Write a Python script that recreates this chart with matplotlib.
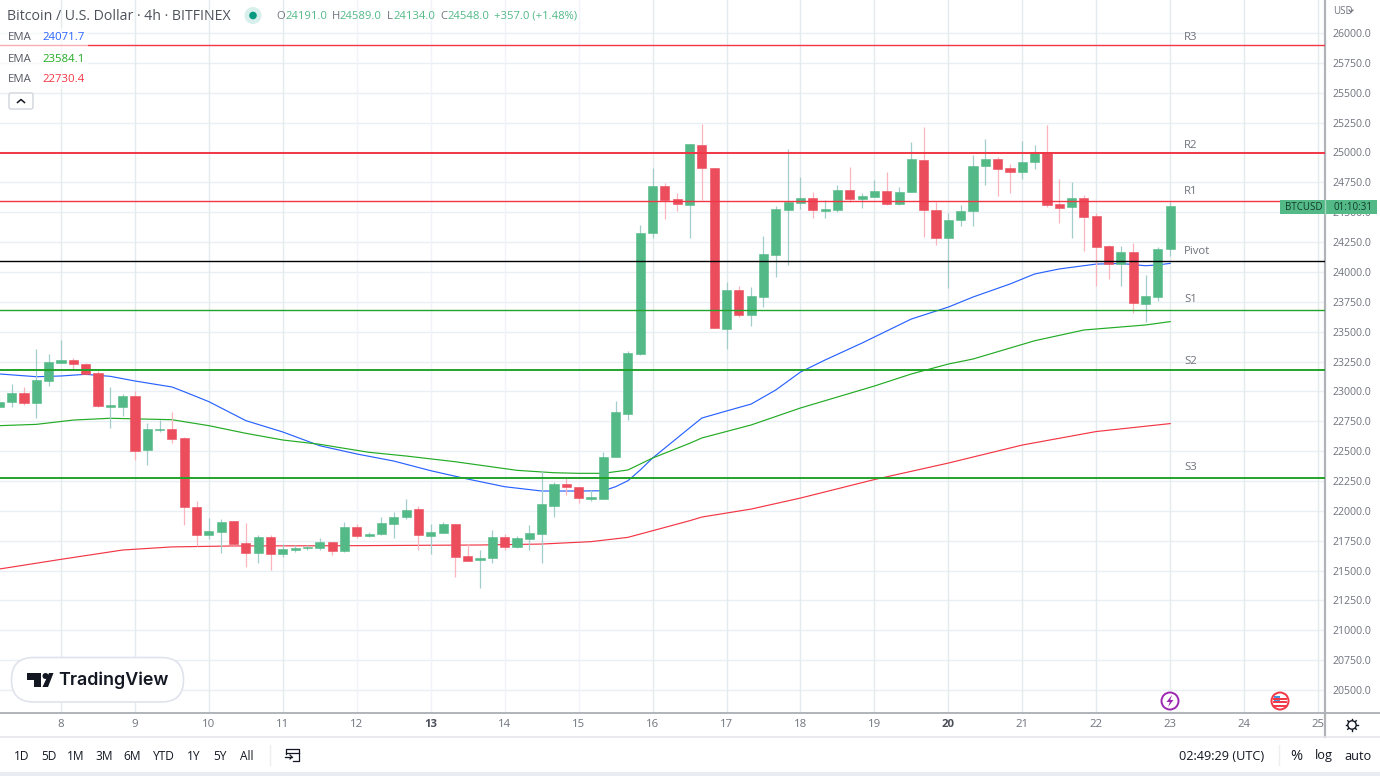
import numpy as np
import matplotlib
matplotlib.use('Agg')
import matplotlib.pyplot as plt
from matplotlib.patches import Circle, FancyBboxPatch, Polygon, Rectangle

plt.rcParams['font.family'] = ['Open Sans', 'DejaVu Sans']

# 4h candles, first one is bar -5, bar 0 is the 8th
FIRST_BAR = -5
opens = [22872, 22909, 22986, 22905, 23090, 23238, 23263, 23232, 23154, 22872, 22872, 22961, 22512, 22677, 22685,
         22607, 22035, 21798, 21825, 21915, 21733, 21647, 21781, 21639, 21675, 21689, 21691, 21739, 21664, 21867,
         21789, 21804, 21890, 21946, 22015, 21792, 21814, 21887, 21622, 21591, 21605, 21778, 21695, 21764, 21809,
         22043, 22225, 22200, 22099, 22102, 22453, 22813, 23313, 24324, 24720, 24611, 24563, 25063, 24870, 23525,
         23846, 23637, 23793, 24142, 24519, 24575, 24616, 24513, 24521, 24684, 24611, 24627, 24678, 24571, 24667,
         24937, 24519, 24282, 24435, 24510, 24887, 24946, 24870, 24834, 24923, 25007, 24569, 24541, 24616, 24466,
         24215, 24066, 24169, 23729, 23793, 24191]
highs = [22970, 23059, 23037, 23355, 23313, 23430, 23280, 23238, 23168, 23037, 22978, 23001, 22735, 22760, 22825,
         22616, 22082, 21940, 21929, 21915, 21898, 21800, 21795, 21720, 21714, 21714, 21773, 21739, 21909, 21887,
         21825, 21951, 21993, 22102, 22038, 21887, 21909, 21890, 21720, 21672, 21840, 21804, 21789, 21881, 22342,
         22244, 22272, 22200, 22174, 22493, 22920, 23341, 24393, 24868, 24747, 24661, 25071, 25239, 24870, 23913,
         23882, 23871, 24303, 24555, 25027, 24792, 24669, 24602, 24730, 24881, 24663, 24770, 24839, 24709, 25090,
         25211, 24583, 24491, 24560, 24979, 25113, 24965, 24904, 25096, 25063, 25230, 24776, 24753, 24642, 24491,
         24226, 24215, 24245, 23974, 24211, 24589]
lows = [22861, 22869, 22889, 22780, 23048, 23235, 23187, 23137, 22869, 22696, 22794, 22428, 22386, 22662, 22568,
        21884, 21706, 21764, 21650, 21714, 21532, 21563, 21507, 21613, 21655, 21672, 21675, 21630, 21655, 21775,
        21778, 21800, 21773, 21932, 21670, 21641, 21812, 21446, 21582, 21356, 21566, 21672, 21689, 21672, 21563,
        21948, 22133, 22068, 22085, 22102, 22453, 22760, 23305, 24282, 24443, 24513, 24287, 24602, 23528, 23355,
        23623, 23547, 23706, 23958, 24061, 24530, 24454, 24454, 24502, 24583, 24533, 24627, 24560, 24560, 24667,
        24295, 24228, 23868, 24387, 24387, 24728, 24636, 24658, 24778, 24862, 24546, 24412, 24287, 24178, 23885,
        23943, 23885, 23659, 23584, 23757, 24134]
closes = [22914, 22986, 22905, 23095, 23248, 23263, 23229, 23148, 22875, 22886, 22961, 22503, 22685, 22685, 22604,
          22032, 21798, 21831, 21909, 21722, 21647, 21781, 21639, 21680, 21691, 21700, 21739, 21664, 21865, 21792,
          21806, 21898, 21951, 22007, 21798, 21820, 21887, 21616, 21582, 21608, 21778, 21695, 21773, 21814, 22055,
          22225, 22200, 22105, 22116, 22451, 22825, 23319, 24324, 24720, 24605, 24569, 25071, 24873, 23528, 23846,
          23642, 23799, 24148, 24527, 24588, 24619, 24521, 24527, 24684, 24611, 24636, 24678, 24571, 24669, 24943,
          24521, 24282, 24435, 24508, 24887, 24946, 24864, 24834, 24923, 25007, 24558, 24538, 24616, 24462, 24211,
          24066, 24169, 23742, 23799, 24195, 24548]

# EMAs, read at these bars
ema_blue_x = [-5, -2, 0, 2, 4, 6, 9, 10, 12, 15, 18, 21, 24, 27, 30, 33, 36, 39, 42, 44, 45, 46, 47, 48, 51, 52, 54,
              56, 58, 60, 62, 65, 68, 69, 72, 74, 77, 79, 81, 84, 86, 88, 89, 90]
ema_blue = [23146, 23123, 23129, 23143, 23126, 23087, 23037, 22997, 22914, 22755, 22660, 22545, 22476, 22417, 22336,
            22266, 22202, 22166, 22166, 22168, 22202, 22252, 22342, 22442, 22694, 22777, 22836, 22894, 23012, 23162,
            23263, 23405, 23556, 23606, 23706, 23790, 23899, 23983, 24025, 24066, 24071, 24052, 24059, 24071.7]
ema_green_x = [-5, -2, 1, 4, 9, 12, 15, 18, 21, 23, 25, 28, 32, 37, 40, 42, 44, 46, 48, 51, 52, 56, 60, 66, 69, 72,
               74, 79, 83, 88, 90]
ema_green = [22713, 22724, 22760, 22775, 22763, 22713, 22649, 22593, 22557, 22523, 22490, 22459, 22411, 22339, 22319,
             22314, 22314, 22342, 22442, 22565, 22610, 22719, 22861, 23045, 23146, 23229, 23271, 23424, 23514, 23556,
             23584.1]
ema_red_x = [-5, 0, 5, 9, 14, 23, 34, 39, 43, 46, 51, 52, 56, 60, 66, 72, 78, 84, 90]
ema_red = [21513, 21594, 21672, 21698, 21706, 21708, 21714, 21722, 21742, 21778, 21917, 21948, 22015, 22107, 22262,
           22400, 22551, 22664, 22730.4]

level_names = ['R3', 'R2', 'R1', 'Pivot', 'S1', 'S2', 'S3']
level_values = [25900, 24998, 24596, 24089, 23684, 23179, 22274]
level_colors = ['#f23645', '#f23645', '#f23645', '#000000', '#22a32a', '#22a32a', '#22a32a']
level_widths = [1.0, 1.4, 1.0, 1.0, 1.0, 1.4, 1.4]
level_label_y = [36, 144, 191, 251, 299, 360, 467]

price_ticks = np.arange(20500, 26001, 250)
day_labels = [8, 9, 10, 11, 12, 13, 14, 15, 16, 17, 18, 19, 20, 21, 22, 23, 24, 25]
bold_days = [13, 20]
pale_days = [12, 13, 14, 15]
range_buttons = ['1D', '5D', '1M', '3M', '6M', 'YTD', '1Y', '5Y', 'All']
range_button_x = [22, 49, 76, 104, 132, 164, 194, 220, 247]

UP = '#53b987'
DOWN = '#eb4d5c'
GRID = '#e9eff3'
GREY = '#6f737d'
DARK = '#131722'
AXIS = '#b0b3b8'

fig = plt.figure(figsize=(13.8, 7.76), dpi=100, facecolor='white')
ax = fig.add_axes([0, 63 / 776, 1325 / 1380, 713 / 776])
ax.set_xlim(-4.95, 102.56)
ax.set_ylim(20307.5, 26276.7)
ax.set_axisbelow(True)

for p in price_ticks:
    ax.axhline(p, color=GRID, lw=1, zorder=0)
for n, d in enumerate(day_labels):
    ax.axvline(n * 6, color='#f0f4fa' if d in pale_days else '#e4ebef', lw=1, zorder=0)

ax.plot(ema_blue_x, ema_blue, color='#2962ff', lw=0.85, zorder=1)
ax.plot(ema_green_x, ema_green, color='#22ab24', lw=0.85, zorder=1)
ax.plot(ema_red_x, ema_red, color='#f23645', lw=0.85, zorder=1)

bars = np.arange(FIRST_BAR, FIRST_BAR + len(opens))
o, h, l, c = map(np.array, (opens, highs, lows, closes))
up = c >= o
colors = np.where(up, UP, DOWN)
wick_colors = np.where(up, '#a3cdca', '#f9b4bd')
ax.vlines(bars, l, h, colors=wick_colors, lw=0.9, zorder=2)
ax.bar(bars, np.abs(c - o), bottom=np.minimum(o, c), width=0.74, color=colors, edgecolor=colors, lw=0.4, zorder=3)

for v, col, w in zip(level_values, level_colors, level_widths):
    ax.axhline(v, color=col, lw=w, zorder=4)

ax.yaxis.tick_right()
ax.set_yticks(price_ticks)
ax.set_yticklabels(['%.1f' % p for p in price_ticks], fontsize=7.6, color=GREY)
ax.tick_params(axis='y', length=0, pad=5.5)
ax.set_xticks([n * 6 for n in range(len(day_labels))])
ax.set_xticklabels([str(d) for d in day_labels], fontsize=8.2, color=GREY)
ax.tick_params(axis='x', length=0, pad=4.5)
for lab, d in zip(ax.get_xticklabels(), day_labels):
    if d in bold_days:
        lab.set_fontweight('bold')
        lab.set_color('#4a4e58')
for s in ('top', 'left'):
    ax.spines[s].set_visible(False)
ax.spines['right'].set_color(AXIS)
ax.spines['right'].set_linewidth(1.6)
ax.spines['bottom'].set_color(AXIS)
ax.spines['bottom'].set_linewidth(1.4)

# everything around the chart, in screen pixels
ui = fig.add_axes([0, 0, 1, 1], facecolor='none')
ui.set_xlim(0, 1380)
ui.set_ylim(776, 0)
ui.axis('off')


def label(x, y, s, color=GREY, size=9, ha='left', **kw):
    # va center sits a little high for this font
    ui.text(x, y + 1, s, color=color, fontsize=size, ha=ha, va='center', **kw)


for name, y in zip(level_names, level_label_y):
    label(1184, y, name, size=8.2)

# legend block
ui.add_patch(Rectangle((0, 28), 88, 61, fc='white', ec='none', alpha=0.6))
label(7, 15, 'Bitcoin / U.S. Dollar · 4h · BITFINEX', color='#4e525c', size=10.2)
ui.add_patch(Circle((253, 15.5), 8.5, fc='#d8efeb', ec='none'))
ui.add_patch(Circle((253, 15.5), 3.8, fc='#089981', ec='none'))
for x, s, col in [(276, 'O', GREY), (285, '24191.0', UP), (332, 'H', GREY), (340, '24589.0', UP), (387, 'L', GREY),
                  (393, '24134.0', UP), (440, 'C', GREY), (448, '24548.0', UP), (494, '+357.0 (+1.48%)', UP)]:
    label(x, 15.5, s, color=col, size=8.1)
for y, s, col in [(36, '24071.7', '#2962ff'), (58, '23584.1', '#22ab24'), (79, '22730.4', '#f23645')]:
    label(8, y, 'EMA', color='#555963', size=8.2)
    label(42, y, s, color=col, size=8.2)
ui.add_patch(FancyBboxPatch((9, 93), 24, 16, boxstyle='round,pad=0,rounding_size=2', fc='white', ec='#d1d4dc', lw=1))
ui.plot([17.5, 21, 24.5], [102.5, 99.5, 102.5], color=DARK, lw=1.1)

# price badge
ui.add_patch(Rectangle((1280, 200), 97, 14, fc=UP, ec='none', zorder=5))
ui.plot([1325, 1325], [200, 214], color='#a4d6bd', lw=1, zorder=6)
label(1284.5, 206.5, 'BTCUSD', color='#123a2a', size=7, zorder=7)
label(1334, 206.5, '01:10:31', color='#123a2a', size=7, zorder=7)
label(1333, 10.5, 'USD', size=7)
ui.plot([1349, 1351, 1353], [10, 12, 10], color=GREY, lw=0.9)

# logo
ui.add_patch(FancyBboxPatch((11.5, 657.5), 172, 44.5, boxstyle='round,pad=0,rounding_size=22', fc='white',
                            ec='#e0e3eb', lw=1.2, zorder=2))
ui.add_patch(Polygon([(27, 673), (41, 673), (41, 687), (34, 687), (34, 680), (27, 680)], fc=DARK, ec='none', zorder=3))
ui.add_patch(Circle((45.5, 676), 3, fc=DARK, ec='none', zorder=3))
ui.add_patch(Polygon([(49, 673), (53.5, 673), (48, 687), (42.5, 687)], fc=DARK, ec='none', zorder=3))
ui.text(58, 680.5, 'TradingView', color=DARK, fontsize=12.9, fontweight='semibold', family=['Inter', 'DejaVu Sans'],
        ha='left', va='center', zorder=3)

# markers sitting on the time axis
ui.add_patch(Circle((1170, 701), 8.5, fc='white', ec='#9c27b0', lw=1.4))
ui.add_patch(Polygon([(1172, 695), (1166.5, 702), (1169.8, 702), (1168, 707), (1173.5, 700), (1170.3, 700)],
                     fc='#9c27b0', ec='none'))
ui.add_patch(Circle((1280, 701), 8.5, fc='white', ec='#f23645', lw=1.4))
for y in (698.5, 702, 705.5):
    ui.plot([1274, 1286], [y, y], color='#f23645', lw=1.4)
ui.add_patch(Rectangle((1274, 695.5), 6, 5, fc='#4a90d9', ec='none'))

# axis lines run on past the plot area
ui.plot([1325, 1325], [713, 737], color=AXIS, lw=1.6)
ui.plot([1325, 1380], [713, 713], color=AXIS, lw=1.4)

# settings gear
ui.add_patch(Circle((1352, 725), 4.2, fc='white', ec=DARK, lw=1, zorder=3))
for a in np.deg2rad(np.arange(0, 360, 45)):
    ui.plot([1352 + 4.2 * np.cos(a), 1352 + 6 * np.cos(a)], [725 + 4.2 * np.sin(a), 725 + 6 * np.sin(a)],
            color=DARK, lw=1, zorder=2)

# bottom toolbar
ui.plot([0, 1380], [737, 737], color='#e4e6ea', lw=1.2)
ui.add_patch(Rectangle((0, 772), 1380, 4, fc='#e9ecf2', ec='none'))
for x, s in zip(range_button_x, range_buttons):
    label(x, 755, s, color=DARK, size=8.6, ha='center')
ui.plot([269.5, 269.5], [745, 765], color='#eceef1', lw=1)
ui.plot([1279, 1279], [745, 765], color='#eceef1', lw=1)
ui.plot([286, 286, 299, 299, 293], [754, 749, 749, 761, 761], color=DARK, lw=0.9)
ui.plot([286, 299], [752.5, 752.5], color=DARK, lw=0.9)
ui.plot([285, 292], [757, 757], color=DARK, lw=0.9)
ui.plot([290, 292, 290], [755, 757, 759], color=DARK, lw=0.9)
label(1222, 755, '02:49:29 (UTC)', color=DARK, size=9.2, ha='center')
label(1296, 755, '%', color=DARK, size=10.5, ha='center')
label(1324, 755, 'log', color=DARK, size=9.2, ha='center')
label(1358, 755, 'auto', color=DARK, size=9.2, ha='center')

fig.savefig('out.png', dpi=100, facecolor='white')
